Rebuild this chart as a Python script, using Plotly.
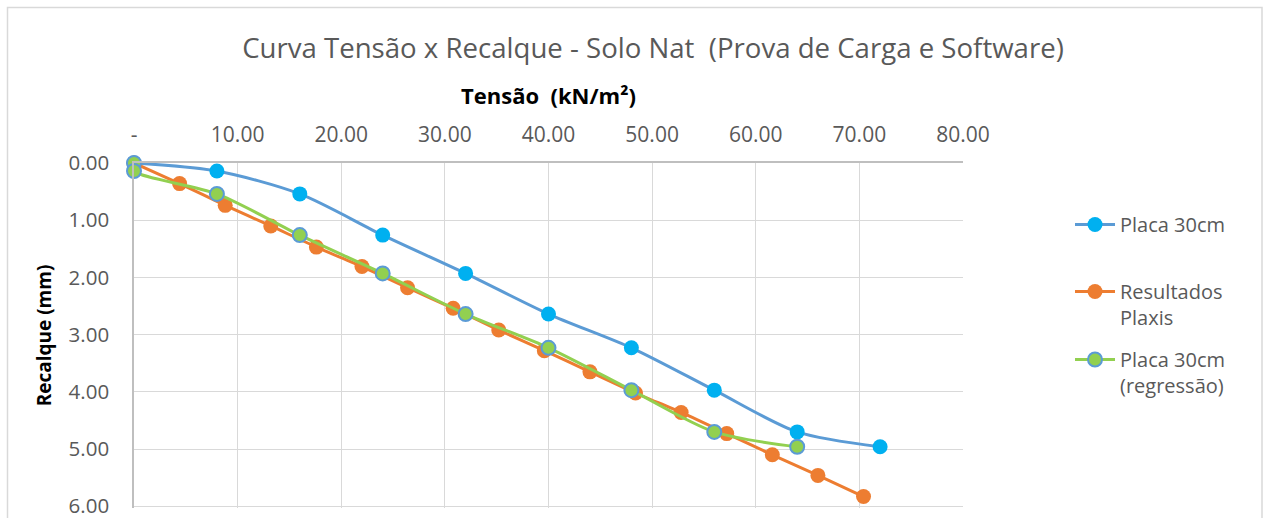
import plotly.graph_objects as go

# Load test (plate 30 cm) and Plaxis results: stress (kN/m²) vs settlement (mm)
placa_tensao = [0, 8, 16, 24, 32, 40, 48, 56, 64, 72]
placa_recalque = [0.00, 0.14, 0.54, 1.26, 1.93, 2.64, 3.23, 3.97, 4.70, 4.96]

plaxis_tensao = [0, 4.4, 8.8, 13.2, 17.6, 22.0, 26.4, 30.8, 35.2, 39.6,
                 44.0, 48.4, 52.8, 57.2, 61.6, 66.0, 70.4]
plaxis_recalque = [0.00, 0.36, 0.74, 1.10, 1.47, 1.81, 2.18, 2.54, 2.92, 3.28,
                   3.65, 4.02, 4.36, 4.73, 5.10, 5.46, 5.83]

regressao_tensao = [0, 0, 8, 16, 24, 32, 40, 48, 56, 64]
regressao_recalque = [0.00, 0.14, 0.54, 1.26, 1.93, 2.64, 3.23, 3.97, 4.70, 4.96]

x_ticks = [0, 10, 20, 30, 40, 50, 60, 70, 80]
x_ticktext = ["-", "10.00", "20.00", "30.00", "40.00", "50.00", "60.00", "70.00", "80.00"]
y_ticks = [0, 1, 2, 3, 4, 5, 6]
y_ticktext = ["0.00", "1.00", "2.00", "3.00", "4.00", "5.00", "6.00"]

FONT = "Open Sans"
GREY = "#595959"
W, H = 1263, 518
ML, MR, MT, MB = 134, 300, 163, 10

fig = go.Figure()

fig.add_trace(go.Scatter(
    x=placa_tensao, y=placa_recalque, name="Placa 30cm",
    mode="lines+markers", legend="legend", cliponaxis=False,
    line=dict(color="#5B9BD5", width=3, shape="spline", smoothing=0.8),
    marker=dict(color="#00B0F0", size=15, line=dict(width=0)),
))
fig.add_trace(go.Scatter(
    x=plaxis_tensao, y=plaxis_recalque, name="Resultados<br>Plaxis",
    mode="lines+markers", legend="legend2", cliponaxis=False,
    line=dict(color="#ED7D31", width=3, shape="spline", smoothing=0.6),
    marker=dict(color="#ED7D31", size=15, line=dict(width=0)),
))
fig.add_trace(go.Scatter(
    x=regressao_tensao, y=regressao_recalque, name="Placa 30cm<br>(regressão)",
    mode="lines+markers", legend="legend3", cliponaxis=False,
    line=dict(color="#92D050", width=3, shape="spline", smoothing=0.8),
    marker=dict(color="#92D050", size=14, line=dict(color="#5B9BD5", width=2)),
))

# outer chart frame, expressed in paper coordinates of the plot area
pw, ph = W - ML - MR, H - MT - MB
def px_x(p):
    return (p - ML) / pw
def px_y(p):
    return (H - MB - p) / ph

fig.add_shape(type="rect", xref="paper", yref="paper",
              x0=px_x(7.5), x1=px_x(1262), y0=px_y(530), y1=px_y(7.5),
              line=dict(color="#D9D9D9", width=1.5), layer="below")


def legend_box(top_px):
    return dict(
        x=1070 / W, xref="container", xanchor="left",
        y=1 - top_px / H, yref="container", yanchor="top",
        font=dict(family=FONT, size=20, color=GREY),
        valign="top", bgcolor="rgba(0,0,0,0)", itemwidth=40,
    )


fig.update_layout(
    width=W, height=H,
    margin=dict(l=ML, r=MR, t=MT, b=MB, autoexpand=False),
    paper_bgcolor="white", plot_bgcolor="white",
    font=dict(family=FONT, color=GREY),
    showlegend=True,
    title=dict(
        text="Curva Tensão x Recalque - Solo Nat  (Prova de Carga e Software)",
        x=653 / W, xanchor="center", y=1 - 48 / H, yanchor="middle",
        xref="container", yref="container",
        font=dict(family=FONT, size=27.6, color=GREY),
    ),
    xaxis=dict(
        side="top", range=[0, 80.001], tickvals=x_ticks, ticktext=x_ticktext,
        showgrid=True, gridcolor="#D9D9D9", gridwidth=1.3,
        showline=True, linecolor="#BFBFBF", linewidth=1.5,
        zeroline=False, ticks="", ticklabelstandoff=11,
        tickfont=dict(family=FONT, size=21, color=GREY),
        title=dict(text="<b>Tensão  (kN/m²)</b>", standoff=9,
                   font=dict(family=FONT, size=22, color="black")),
    ),
    yaxis=dict(
        range=[6.03, 0], tickvals=y_ticks, ticktext=y_ticktext,
        showgrid=True, gridcolor="#D9D9D9", gridwidth=1.3,
        showline=True, linecolor="#BFBFBF", linewidth=1.5,
        zeroline=False, ticks="", ticklabelstandoff=19,
        ticklabeloverflow="allow",
        tickfont=dict(family=FONT, size=20.5, color=GREY),
        title=dict(text="<b>Recalque (mm)</b>", standoff=12,
                   font=dict(family=FONT, size=19, color="black")),
    ),
    legend=legend_box(205),
    legend2=legend_box(272),
    legend3=legend_box(340),
)

fig.write_html("out.html")
